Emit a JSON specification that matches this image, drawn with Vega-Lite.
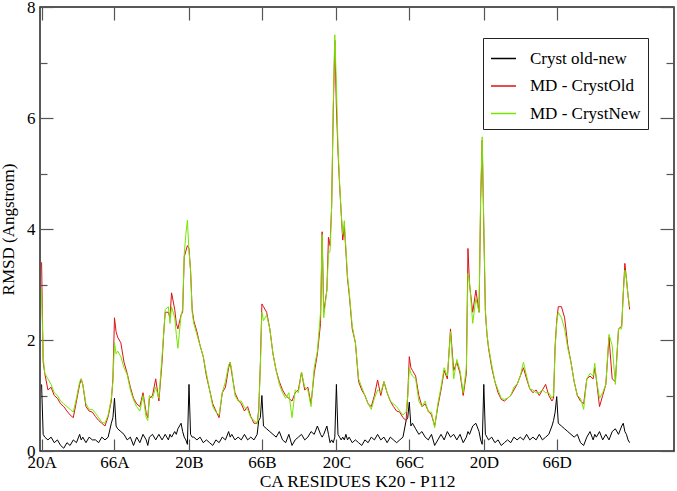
{
"$schema": "https://vega.github.io/schema/vega-lite/v6.json",
"width": 634, "height": 444,
"autosize": {"type": "none"},
"padding": {"left": 40, "top": 7, "right": 3, "bottom": 40},
"background": "white",
"config": {"view": {"stroke": "#222", "strokeWidth": 1.5}, "font": "'Liberation Serif', 'DejaVu Serif', serif"},
"data": {"values": [
{"r":0,"cryst":1.2,"old":3.4,"new":2.9},
{"r":1,"cryst":0.3,"old":1.6,"new":1.7},
{"r":2,"cryst":0.25,"old":1.4,"new":1.4},
{"r":4,"cryst":0.2,"old":1.1,"new":1.3},
{"r":6,"cryst":0.25,"old":1.15,"new":1.2},
{"r":8,"cryst":0.15,"old":1.0,"new":1.05},
{"r":10,"cryst":0.2,"old":0.95,"new":1.0},
{"r":12,"cryst":0.1,"old":0.85,"new":0.9},
{"r":14,"cryst":0.05,"old":0.8,"new":0.85},
{"r":16,"cryst":0.15,"old":0.72,"new":0.8},
{"r":18,"cryst":0.1,"old":0.65,"new":0.75},
{"r":20,"cryst":0.2,"old":0.6,"new":0.7},
{"r":22,"cryst":0.15,"old":0.9,"new":0.95},
{"r":24,"cryst":0.3,"old":1.2,"new":1.25},
{"r":25,"cryst":0.2,"old":1.3,"new":1.3},
{"r":26,"cryst":0.25,"old":1.2,"new":1.2},
{"r":28,"cryst":0.15,"old":0.8,"new":0.85},
{"r":30,"cryst":0.25,"old":0.72,"new":0.75},
{"r":32,"cryst":0.2,"old":0.7,"new":0.75},
{"r":34,"cryst":0.2,"old":0.62,"new":0.68},
{"r":36,"cryst":0.15,"old":0.55,"new":0.6},
{"r":38,"cryst":0.25,"old":0.5,"new":0.52},
{"r":40,"cryst":0.2,"old":0.45,"new":0.5},
{"r":42,"cryst":0.25,"old":0.62,"new":0.65},
{"r":44,"cryst":0.5,"old":0.9,"new":0.95},
{"r":45,"cryst":0.6,"old":1.3,"new":1.25},
{"r":46,"cryst":0.95,"old":2.4,"new":1.95},
{"r":47,"cryst":0.45,"old":2.15,"new":1.75},
{"r":48,"cryst":0.4,"old":2.05,"new":1.8},
{"r":50,"cryst":0.35,"old":1.95,"new":1.7},
{"r":52,"cryst":0.3,"old":1.6,"new":1.5},
{"r":54,"cryst":0.2,"old":1.4,"new":1.38},
{"r":56,"cryst":0.25,"old":1.15,"new":1.1},
{"r":58,"cryst":0.1,"old":0.95,"new":0.92},
{"r":60,"cryst":0.25,"old":0.85,"new":0.8},
{"r":62,"cryst":0.15,"old":0.8,"new":0.72},
{"r":64,"cryst":0.3,"old":1.05,"new":1.0},
{"r":66,"cryst":0.2,"old":0.68,"new":0.6},
{"r":67,"cryst":0.1,"old":0.6,"new":0.55},
{"r":68,"cryst":0.25,"old":0.95,"new":1.0},
{"r":70,"cryst":0.3,"old":1.0,"new":0.95},
{"r":72,"cryst":0.2,"old":1.3,"new":1.15},
{"r":74,"cryst":0.3,"old":0.9,"new":0.95},
{"r":76,"cryst":0.2,"old":1.6,"new":1.7},
{"r":77,"cryst":0.25,"old":2.1,"new":2.1},
{"r":78,"cryst":0.3,"old":2.5,"new":2.55},
{"r":80,"cryst":0.2,"old":2.5,"new":2.6},
{"r":81,"cryst":0.3,"old":2.4,"new":2.3},
{"r":82,"cryst":0.25,"old":2.85,"new":2.6},
{"r":84,"cryst":0.35,"old":2.55,"new":2.4},
{"r":85,"cryst":0.3,"old":2.3,"new":2.1},
{"r":86,"cryst":0.4,"old":2.2,"new":1.85},
{"r":88,"cryst":0.5,"old":2.45,"new":2.45},
{"r":89,"cryst":0.35,"old":2.5,"new":2.55},
{"r":90,"cryst":0.25,"old":3.5,"new":3.55},
{"r":91,"cryst":0.2,"old":3.6,"new":3.9},
{"r":92,"cryst":0.12,"old":3.7,"new":4.16},
{"r":93,"cryst":1.2,"old":3.65,"new":3.6},
{"r":94,"cryst":0.3,"old":3.25,"new":3.25},
{"r":95,"cryst":0.25,"old":2.55,"new":2.5},
{"r":96,"cryst":0.25,"old":2.35,"new":2.3},
{"r":98,"cryst":0.2,"old":2.15,"new":2.1},
{"r":100,"cryst":0.25,"old":1.9,"new":1.9},
{"r":102,"cryst":0.15,"old":1.7,"new":1.7},
{"r":104,"cryst":0.2,"old":1.35,"new":1.4},
{"r":106,"cryst":0.15,"old":1.1,"new":1.1},
{"r":108,"cryst":0.1,"old":0.85,"new":0.8},
{"r":110,"cryst":0.2,"old":0.72,"new":0.7},
{"r":112,"cryst":0.15,"old":0.6,"new":0.65},
{"r":114,"cryst":0.25,"old":1.05,"new":1.05},
{"r":116,"cryst":0.2,"old":1.15,"new":1.25},
{"r":118,"cryst":0.35,"old":1.5,"new":1.55},
{"r":119,"cryst":0.25,"old":1.6,"new":1.6},
{"r":120,"cryst":0.3,"old":1.4,"new":1.45},
{"r":122,"cryst":0.2,"old":1.05,"new":1.0},
{"r":124,"cryst":0.25,"old":0.92,"new":0.9},
{"r":126,"cryst":0.2,"old":0.85,"new":0.9},
{"r":128,"cryst":0.3,"old":0.72,"new":0.78},
{"r":130,"cryst":0.2,"old":0.8,"new":0.75},
{"r":132,"cryst":0.25,"old":0.62,"new":0.6},
{"r":134,"cryst":0.2,"old":0.5,"new":0.55},
{"r":136,"cryst":0.3,"old":0.5,"new":0.5},
{"r":137,"cryst":0.55,"old":0.75,"new":0.7},
{"r":138,"cryst":0.6,"old":1.55,"new":1.5},
{"r":139,"cryst":1.0,"old":2.65,"new":2.5},
{"r":140,"cryst":0.45,"old":2.6,"new":2.35},
{"r":142,"cryst":0.4,"old":2.5,"new":2.45},
{"r":144,"cryst":0.35,"old":2.2,"new":2.2},
{"r":146,"cryst":0.3,"old":1.75,"new":1.75},
{"r":148,"cryst":0.25,"old":1.45,"new":1.45},
{"r":150,"cryst":0.35,"old":1.25,"new":1.2},
{"r":152,"cryst":0.2,"old":1.1,"new":1.05},
{"r":154,"cryst":0.15,"old":1.0,"new":0.95},
{"r":156,"cryst":0.3,"old":0.95,"new":1.05},
{"r":158,"cryst":0.1,"old":0.9,"new":0.6},
{"r":160,"cryst":0.2,"old":1.05,"new":1.1},
{"r":162,"cryst":0.25,"old":1.1,"new":1.05},
{"r":164,"cryst":0.3,"old":1.42,"new":1.42},
{"r":166,"cryst":0.2,"old":1.1,"new":1.15},
{"r":168,"cryst":0.25,"old":1.15,"new":1.1},
{"r":170,"cryst":0.35,"old":0.85,"new":0.8},
{"r":172,"cryst":0.3,"old":1.4,"new":1.5},
{"r":174,"cryst":0.45,"old":1.75,"new":1.8},
{"r":176,"cryst":0.3,"old":2.3,"new":2.5},
{"r":177,"cryst":0.25,"old":3.95,"new":3.9},
{"r":178,"cryst":0.3,"old":2.5,"new":2.4},
{"r":180,"cryst":0.45,"old":2.9,"new":2.9},
{"r":181,"cryst":0.3,"old":3.85,"new":3.55},
{"r":182,"cryst":0.15,"old":3.7,"new":3.6},
{"r":183,"cryst":0.2,"old":4.4,"new":4.4},
{"r":184,"cryst":0.15,"old":6.1,"new":6.2},
{"r":185,"cryst":0.25,"old":7.4,"new":7.5},
{"r":186,"cryst":1.2,"old":6.2,"new":6.6},
{"r":187,"cryst":0.3,"old":5.4,"new":5.5},
{"r":188,"cryst":0.25,"old":4.8,"new":4.85},
{"r":189,"cryst":0.2,"old":4.3,"new":4.3},
{"r":190,"cryst":0.25,"old":3.8,"new":3.9},
{"r":191,"cryst":0.2,"old":4.05,"new":4.15},
{"r":192,"cryst":0.3,"old":3.6,"new":3.65},
{"r":193,"cryst":0.2,"old":3.1,"new":3.15},
{"r":194,"cryst":0.25,"old":2.85,"new":2.9},
{"r":196,"cryst":0.15,"old":2.2,"new":2.25},
{"r":198,"cryst":0.2,"old":1.95,"new":1.95},
{"r":200,"cryst":0.15,"old":1.25,"new":1.3},
{"r":202,"cryst":0.1,"old":1.1,"new":1.15},
{"r":204,"cryst":0.2,"old":1.0,"new":1.0},
{"r":206,"cryst":0.15,"old":0.85,"new":0.85},
{"r":208,"cryst":0.25,"old":0.8,"new":0.75},
{"r":210,"cryst":0.2,"old":1.0,"new":0.95},
{"r":212,"cryst":0.3,"old":1.28,"new":1.1},
{"r":214,"cryst":0.2,"old":1.0,"new":1.05},
{"r":216,"cryst":0.25,"old":1.25,"new":1.25},
{"r":218,"cryst":0.15,"old":1.05,"new":1.05},
{"r":220,"cryst":0.25,"old":0.9,"new":0.9},
{"r":222,"cryst":0.2,"old":0.8,"new":0.85},
{"r":224,"cryst":0.15,"old":0.72,"new":0.8},
{"r":226,"cryst":0.2,"old":0.7,"new":0.72},
{"r":228,"cryst":0.25,"old":0.6,"new":0.65},
{"r":230,"cryst":0.55,"old":0.55,"new":0.7},
{"r":231,"cryst":0.6,"old":1.0,"new":0.98},
{"r":232,"cryst":0.88,"old":1.7,"new":1.5},
{"r":233,"cryst":0.45,"old":1.5,"new":1.4},
{"r":234,"cryst":0.5,"old":1.45,"new":1.35},
{"r":236,"cryst":0.4,"old":1.35,"new":1.3},
{"r":238,"cryst":0.3,"old":1.0,"new":0.9},
{"r":240,"cryst":0.35,"old":0.8,"new":0.8},
{"r":242,"cryst":0.25,"old":0.85,"new":0.9},
{"r":244,"cryst":0.2,"old":0.72,"new":0.7},
{"r":246,"cryst":0.3,"old":0.65,"new":0.7},
{"r":248,"cryst":0.1,"old":0.45,"new":0.42},
{"r":250,"cryst":0.2,"old":0.8,"new":0.85},
{"r":252,"cryst":0.3,"old":1.1,"new":1.15},
{"r":254,"cryst":0.2,"old":1.45,"new":1.5},
{"r":256,"cryst":0.35,"old":1.3,"new":1.35},
{"r":258,"cryst":0.25,"old":2.2,"new":2.15},
{"r":260,"cryst":0.3,"old":1.45,"new":1.3},
{"r":262,"cryst":0.2,"old":1.6,"new":1.65},
{"r":264,"cryst":0.3,"old":1.4,"new":1.45},
{"r":266,"cryst":0.15,"old":1.0,"new":1.05},
{"r":268,"cryst":0.25,"old":1.4,"new":1.5},
{"r":269,"cryst":0.35,"old":3.65,"new":3.2},
{"r":270,"cryst":0.3,"old":3.0,"new":3.05},
{"r":272,"cryst":0.45,"old":2.5,"new":2.3},
{"r":274,"cryst":0.5,"old":2.9,"new":2.75},
{"r":276,"cryst":0.35,"old":2.5,"new":2.5},
{"r":277,"cryst":0.2,"old":4.5,"new":4.6},
{"r":278,"cryst":0.12,"old":5.6,"new":5.66},
{"r":279,"cryst":1.2,"old":4.0,"new":4.1},
{"r":280,"cryst":0.3,"old":2.5,"new":2.55},
{"r":281,"cryst":0.25,"old":2.1,"new":2.1},
{"r":282,"cryst":0.2,"old":1.85,"new":1.88},
{"r":284,"cryst":0.25,"old":1.5,"new":1.55},
{"r":286,"cryst":0.15,"old":1.25,"new":1.25},
{"r":288,"cryst":0.2,"old":1.05,"new":1.1},
{"r":290,"cryst":0.1,"old":0.93,"new":0.95},
{"r":292,"cryst":0.15,"old":0.9,"new":0.93},
{"r":294,"cryst":0.2,"old":0.95,"new":0.95},
{"r":296,"cryst":0.15,"old":1.0,"new":1.0},
{"r":298,"cryst":0.25,"old":1.1,"new":1.15},
{"r":300,"cryst":0.2,"old":1.2,"new":1.2},
{"r":302,"cryst":0.25,"old":1.35,"new":1.35},
{"r":304,"cryst":0.2,"old":1.5,"new":1.6},
{"r":306,"cryst":0.3,"old":1.3,"new":1.35},
{"r":308,"cryst":0.2,"old":1.12,"new":1.12},
{"r":310,"cryst":0.25,"old":1.05,"new":1.1},
{"r":312,"cryst":0.2,"old":1.1,"new":1.05},
{"r":314,"cryst":0.3,"old":1.0,"new":1.05},
{"r":316,"cryst":0.2,"old":1.1,"new":1.1},
{"r":318,"cryst":0.25,"old":1.2,"new":1.05},
{"r":320,"cryst":0.3,"old":1.0,"new":1.05},
{"r":322,"cryst":0.45,"old":0.9,"new":0.95},
{"r":323,"cryst":0.55,"old":0.95,"new":1.0},
{"r":324,"cryst":0.7,"old":1.9,"new":1.85},
{"r":325,"cryst":0.98,"old":2.35,"new":2.3},
{"r":326,"cryst":0.5,"old":2.6,"new":2.5},
{"r":328,"cryst":0.45,"old":2.6,"new":2.4},
{"r":330,"cryst":0.4,"old":2.4,"new":2.2},
{"r":332,"cryst":0.35,"old":1.9,"new":1.85},
{"r":334,"cryst":0.3,"old":1.6,"new":1.6},
{"r":336,"cryst":0.25,"old":1.25,"new":1.25},
{"r":338,"cryst":0.3,"old":1.0,"new":1.0},
{"r":340,"cryst":0.15,"old":0.9,"new":0.95},
{"r":342,"cryst":0.1,"old":0.85,"new":0.75},
{"r":344,"cryst":0.25,"old":1.3,"new":1.3},
{"r":346,"cryst":0.35,"old":1.35,"new":1.4},
{"r":348,"cryst":0.2,"old":1.3,"new":1.35},
{"r":349,"cryst":0.3,"old":1.5,"new":1.58},
{"r":350,"cryst":0.25,"old":1.3,"new":1.3},
{"r":352,"cryst":0.35,"old":0.8,"new":0.95},
{"r":354,"cryst":0.2,"old":1.0,"new":1.05},
{"r":356,"cryst":0.3,"old":1.2,"new":1.2},
{"r":358,"cryst":0.2,"old":2.05,"new":2.1},
{"r":360,"cryst":0.35,"old":1.3,"new":1.9},
{"r":362,"cryst":0.4,"old":1.25,"new":1.2},
{"r":364,"cryst":0.3,"old":2.2,"new":2.2},
{"r":366,"cryst":0.45,"old":2.25,"new":2.2},
{"r":367,"cryst":0.5,"old":2.85,"new":2.85},
{"r":368,"cryst":0.35,"old":3.38,"new":3.26},
{"r":369,"cryst":0.3,"old":3.1,"new":3.1},
{"r":370,"cryst":0.2,"old":2.8,"new":2.8},
{"r":371,"cryst":0.15,"old":2.55,"new":2.6}
]},
"transform": [{"fold": ["cryst", "old", "new"], "as": ["series", "value"]}],
"layer": [
 {"mark": {"type": "line", "strokeWidth": 1, "interpolate": "linear"},
  "encoding": {
   "x": {"field": "r", "type": "quantitative", "scale": {"domain": [-1, 399], "nice": false, "zero": false},
     "axis": {"orient": "bottom", "values": [0,46,93,139,186,232,279,325],
       "labelExpr": "['20A','66A','20B','66B','20C','66C','20D','66D'][indexof([0,46,93,139,186,232,279,325], datum.value)]",
       "tickSize": -12, "tickColor": "#555", "tickWidth": 1.2, "domain": false, "grid": false,
       "labelFont": "'Liberation Serif', 'DejaVu Serif', serif", "labelFontSize": 17, "labelColor": "black", "labelBaseline": "alphabetic", "labelPadding": 28, "labelFlush": false, "labelOverlap": false,
       "title": "CA RESIDUES K20 - P112", "titleFont": "'Liberation Serif', 'DejaVu Serif', serif", "titleFontSize": 17.5, "titleFontWeight": "normal", "titleColor": "black", "titleY": 35, "titleBaseline": "alphabetic"}},
   "y": {"field": "value", "type": "quantitative", "scale": {"domain": [0, 8], "nice": false},
     "axis": {"orient": "left", "values": [0,1,2,3,4,5,6,7,8],
       "labelExpr": "datum.value % 2 == 0 ? datum.label : ''",
       "tickSize": {"condition": {"test": "datum.value % 2 == 1", "value": -7}, "value": -13},
       "tickColor": "#555", "tickWidth": 1.2, "domain": false, "grid": false,
       "labelFont": "'Liberation Serif', 'DejaVu Serif', serif", "labelFontSize": 17, "labelColor": "black", "labelPadding": 18, "labelFlush": false, "labelOverlap": false,
       "title": "RMSD (Angstrom)", "titleFont": "'Liberation Serif', 'DejaVu Serif', serif", "titleFontSize": 17, "titleFontWeight": "normal", "titleColor": "black", "titleX": -27, "titleBaseline": "alphabetic"}},
   "color": {"field": "series", "type": "nominal",
     "scale": {"domain": ["cryst", "old", "new"], "range": ["#000000", "#dd1111", "#77e600"]},
     "legend": {"title": null, "orient": "none", "legendX": 443, "legendY": 31,
       "symbolType": "stroke", "symbolSize": 625, "symbolStrokeWidth": 1.5,
       "labelFont": "'Liberation Serif', 'DejaVu Serif', serif", "labelFontSize": 17, "labelColor": "black", "labelOffset": 13,
       "rowPadding": 5.5, "padding": 7, "strokeColor": "#222", "fillColor": "white", "cornerRadius": 0,
       "labelExpr": "datum.label == 'cryst' ? 'Cryst old-new' : datum.label == 'old' ? 'MD - CrystOld' : 'MD - CrystNew'"}}
  }},
 {"mark": {"type": "point", "opacity": 0},
  "encoding": {
   "x": {"field": "r", "type": "quantitative",
     "axis": {"orient": "top", "values": [0,46,93,139,186,232,279,325], "labels": false, "tickSize": -13, "tickColor": "#555", "tickWidth": 1.2, "domain": false, "grid": false, "title": null}},
   "y": {"field": "value", "type": "quantitative",
     "axis": {"orient": "right", "values": [0,1,2,3,4,5,6,7,8], "labels": false,
       "tickSize": {"condition": {"test": "datum.value % 2 == 1", "value": -8}, "value": -14},
       "tickColor": "#555", "tickWidth": 1.2, "domain": false, "grid": false, "title": null}}
  }}
],
"resolve": {"axis": {"x": "independent", "y": "independent"}}
}
